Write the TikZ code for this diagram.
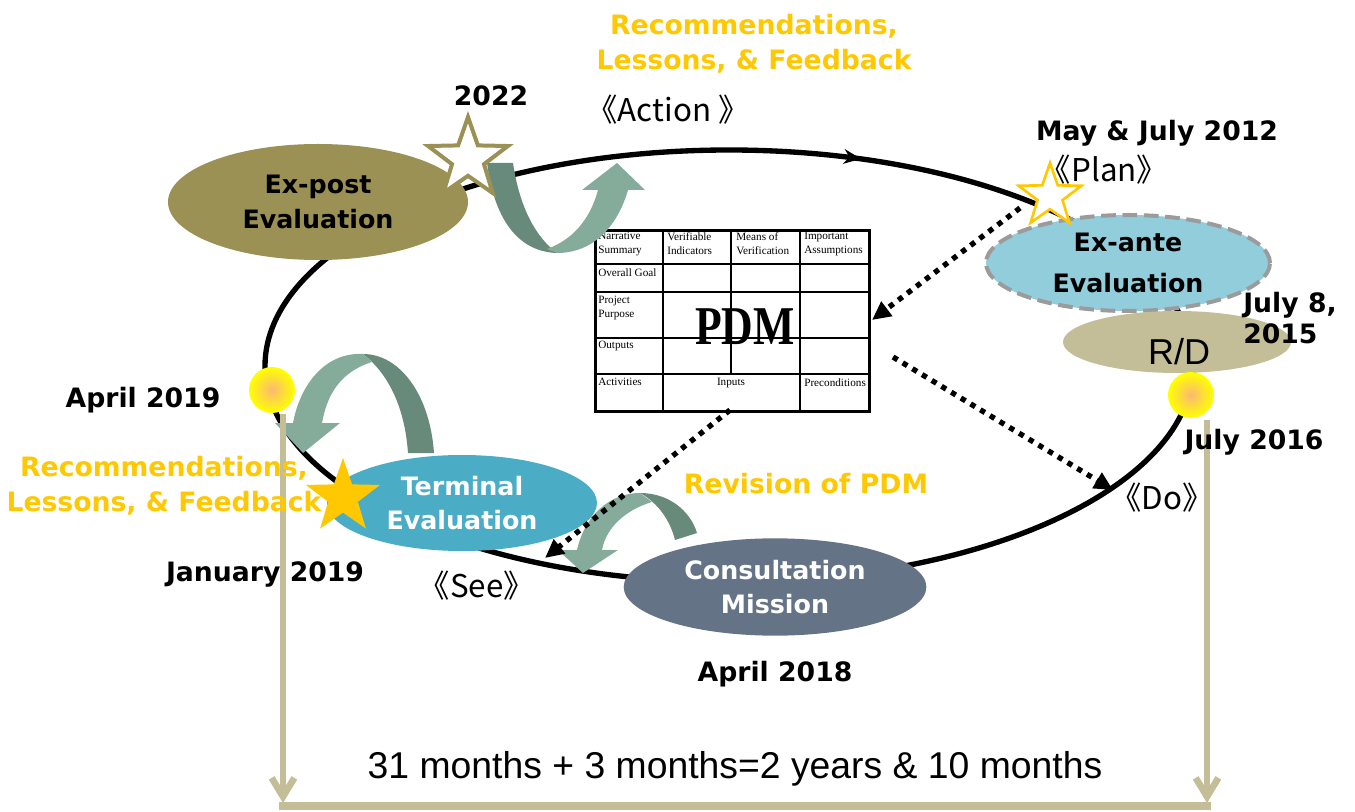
\documentclass[tikz,border=0pt]{standalone}
\usepackage{fontspec}
\usetikzlibrary{shapes.geometric,arrows.meta,decorations.markings}
\newfontfamily\dvs{DejaVu Sans}
\newfontfamily\lsans{Liberation Sans}
\newfontfamily\lserif{Liberation Serif}
\newfontfamily\cjk{Noto Sans CJK SC}
\definecolor{olivec}{RGB}{155,145,85}
\definecolor{exantec}{RGB}{146,205,220}
\definecolor{rdc}{RGB}{196,190,152}
\definecolor{termc}{RGB}{75,172,198}
\definecolor{consc}{RGB}{100,116,134}
\definecolor{goldc}{RGB}{255,200,0}
\definecolor{darkgr}{RGB}{104,138,122}
\definecolor{lightgr}{RGB}{133,172,155}
\definecolor{tanc}{RGB}{196,190,152}
\definecolor{peach}{RGB}{250,185,115}
\definecolor{dashgray}{RGB}{155,155,155}
\begin{document}
\begin{tikzpicture}[x=0.75pt,y=-0.75pt,
  evalnode/.style={ellipse, inner sep=0, align=center, font=\dvs\bfseries\fontsize{19}{26}\selectfont},
  datelbl/.style={inner sep=0, font=\dvs\bfseries\fontsize{20}{26}\selectfont, text height=14.6pt, text depth=0pt},
  goldlbl/.style={inner sep=0, align=center, text=goldc, font=\dvs\bfseries\fontsize{20}{26}\selectfont},
  phaselbl/.style={inner sep=0, font=\cjk\fontsize{23.5}{26}\selectfont, text height=17pt, text depth=0pt},
  cell/.style={anchor=north west, inner sep=0, align=left, font=\lserif\fontsize{8.4}{10.5}\selectfont},
  dotarrow/.style={line width=4pt, dash pattern=on 4pt off 4.5pt, -{Triangle[length=14pt,width=13pt]}},
  tanline/.style={draw=tanc, line width=5pt},
  gridline/.style={line width=0.8pt},
  sun/.style={circle, minimum size=34.5pt, inner sep=0, inner color=peach, outer color=yellow},
]
\useasboundingbox (0,0) rectangle (1355,812);

% ---------- PDM table ----------
\node[draw, line width=2pt, fill=white, anchor=north west, inner sep=0,
      minimum width=205.5pt, minimum height=135.75pt] (pdmtab) at (594,229) {};
\draw[gridline] (594,264) -- (868,264);
\draw[gridline] (594,292) -- (868,292);
\draw[gridline] (594,338) -- (868,338);
\draw[gridline] (594,374) -- (868,374);
\draw[gridline] (663,229) -- (663,410);
\draw[gridline] (731,229) -- (731,374);
\draw[gridline] (800,229) -- (800,410);
\node[cell] (c00) at (598,232) {Narrative\\Summary};
\node[cell] (c01) at (667,232) {Verifiable\\Indicators};
\node[cell] (c02) at (736,232) {Means of\\Verification};
\node[cell] (c03) at (804,232) {Important\\Assumptions};
\node[cell] (c10) at (598,268) {Overall Goal};
\node[cell] (c20) at (598,296) {Project\\Purpose};
\node[cell] (c30) at (598,341) {Outputs};
\node[cell] (c40) at (598,378) {Activities};
\node[cell, anchor=north] (c41) at (731,378) {Inputs};
\node[cell] (c43) at (804,378) {Preconditions};
\node[inner sep=0, xscale=0.8, font=\lserif\bfseries\fontsize{41}{41}\selectfont] (pdmtxt) at (745,327) {PDM};

% ---------- main loop ----------
\coordinate (loopc) at (729,366);
\draw[line width=4pt, postaction={decorate},
      decoration={markings, mark=at position 0.81 with {\arrow{Stealth[length=13pt,width=11pt]}}}]
  (loopc) ellipse [x radius=464, y radius=216];

% ---------- U-turn arrows ----------
\fill[darkgr] (487,163) .. controls (495,225) and (522,252) .. (557,253)
  .. controls (537,238) and (520,210) .. (513,163) -- cycle;
\fill[lightgr] (557,253) .. controls (592,253) and (617,228) .. (628,190)
  -- (645,190) -- (617,163) -- (582,190) -- (598,190)
  .. controls (590,220) and (572,240) .. (547,249) -- cycle;

\fill[darkgr] (363,354) .. controls (400,354) and (430,395) .. (434,453)
  -- (408,453) .. controls (405,410) and (390,375) .. (363,354) -- cycle;
\fill[lightgr] (363,354) .. controls (325,352) and (300,385) .. (293,423)
  -- (275,423) -- (303,453) -- (340,423) -- (322,423)
  .. controls (327,395) and (340,372) .. (372,362) -- cycle;

\fill[darkgr] (640,493) .. controls (668,493) and (690,510) .. (697,533)
  -- (675,540) .. controls (670,520) and (658,503) .. (640,493) -- cycle;
\fill[lightgr] (640,493) .. controls (610,493) and (585,515) .. (577,550)
  -- (558,550) -- (583,573) -- (618,550) -- (602,550)
  .. controls (606,528) and (625,510) .. (652,502) -- cycle;

% ---------- evaluation ellipses ----------
\node[evalnode, fill=olivec, minimum width=225pt, minimum height=87pt] (expost) at (318,202) {Ex-post\\Evaluation};
\node[evalnode, fill=exantec, draw=dashgray, line width=3pt, dash pattern=on 11pt off 5pt,
      minimum width=213pt, minimum height=72pt, font=\dvs\bfseries\fontsize{19}{31}\selectfont] (exante) at (1128,263) {Ex-ante\\Evaluation};
\node[ellipse, fill=rdc, minimum width=171pt, minimum height=46.5pt, inner sep=0] (rd) at (1177,342) {};
\node[inner sep=0, font=\lsans\fontsize{27}{27}\selectfont, text height=19.4pt, text depth=0pt] (rdtxt) at (1179,352) {R/D};
\node[evalnode, fill=termc, text=white, minimum width=202.5pt, minimum height=72pt] (term) at (462,503) {Terminal\\Evaluation};
\node[evalnode, fill=consc, text=white, minimum width=227pt, minimum height=73pt] (cons) at (775,587) {Consultation\\Mission};

% ---------- suns and stars ----------
\node[sun] (sunL) at (272,390) {};
\node[sun] (sunR) at (1191,395) {};
\node[star, star points=5, star point ratio=2.5, minimum size=63pt, inner sep=0,
      draw=olivec, line width=3pt, fill=white] (star2022) at (468,159) {};
\node[star, star points=5, star point ratio=2.5, minimum size=49.5pt, inner sep=0,
      draw=goldc, line width=2pt, fill=white] (starplan) at (1050,196) {};

% ---------- timeline ----------
\coordinate (tL1) at (283,414);
\coordinate (tL2) at (283,803);
\coordinate (tR1) at (1207,420);
\coordinate (tR2) at (1207,803);
\coordinate (hL) at (279,806);
\coordinate (hR) at (1211,806);
\draw[tanline, -{Straight Barb[length=14pt,width=17pt]}] (tL1) -- (tL2);
\draw[tanline, -{Straight Barb[length=14pt,width=17pt]}] (tR1) -- (tR2);
\draw[draw=tanc, line width=6pt] (hL) -- (hR);

\node[star, star points=5, star point ratio=2.5, minimum size=58.5pt, inner sep=0,
      fill=goldc] (starterm) at (343,497) {};

% ---------- dotted arrows ----------
\coordinate (dA1) at (1020,208);
\coordinate (dA2) at (872,320);
\coordinate (dB1) at (893,357);
\coordinate (dB2) at (1113,490);
\coordinate (dC1) at (730,410);
\coordinate (dC2) at (545,558);
\draw[dotarrow] (dA1) -- (dA2);
\draw[dotarrow] (dB1) -- (dB2);
\draw[dotarrow] (dC1) -- (dC2);

% ---------- labels ----------
\node[goldlbl] (recTop) at (754,44) {Recommendations,\\Lessons, \& Feedback};
\node[goldlbl] (recLeft) at (164,486) {Recommendations,\\Lessons, \& Feedback};
\node[goldlbl, text height=14.6pt, text depth=0pt] (revpdm) at (806,484) {Revision of PDM};
\node[datelbl] (d2022) at (491,96) {2022};
\node[datelbl] (dmay) at (1157,131) {May \& July 2012};
\node[inner sep=0, anchor=west, align=left, font=\dvs\bfseries\fontsize{20}{23.5}\selectfont] (djul15) at (1243,318) {July 8,\\2015};
\node[datelbl] (djul16) at (1254,440) {July 2016};
\node[datelbl] (dapr19) at (143,398) {April 2019};
\node[datelbl] (djan19) at (265,572) {January 2019};
\node[datelbl] (dapr18) at (775,672) {April 2018};
\node[phaselbl] (pAction) at (668,110) {《Action 》};
\node[phaselbl] (pPlan) at (1104,170) {《Plan》};
\node[phaselbl] (pDo) at (1162,498) {《Do》};
\node[phaselbl] (pSee) at (477,586) {《See》};
\node[inner sep=0, font=\lsans\fontsize{28}{28}\selectfont, text height=20pt, text depth=0pt] (months) at (735,765) {31 months + 3 months=2 years \& 10 months};
\end{tikzpicture}
\end{document}
